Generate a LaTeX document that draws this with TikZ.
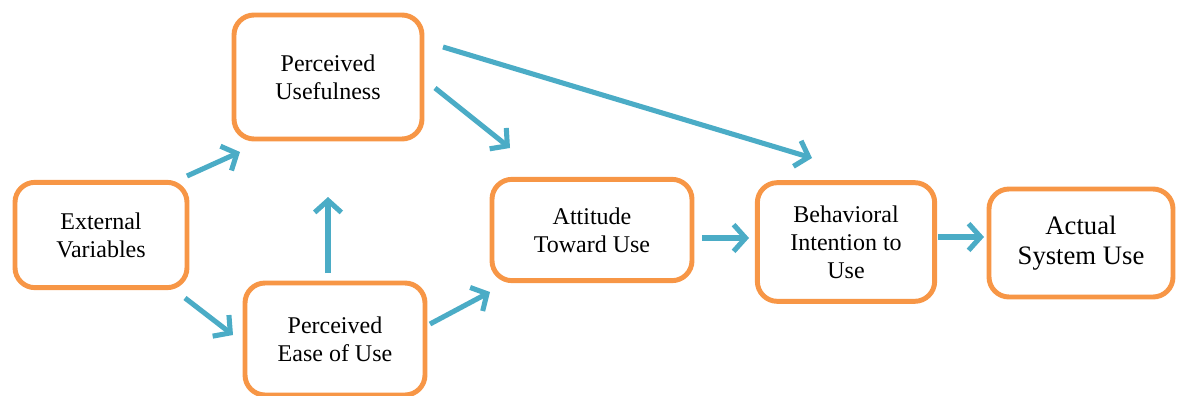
\documentclass[tikz,border=0pt]{standalone}
\usepackage{fontspec}
\setmainfont{Liberation Serif}
\usetikzlibrary{positioning,arrows.meta}
\definecolor{tamorange}{RGB}{247,150,70}
\definecolor{tamblue}{RGB}{75,172,198}

\begin{document}
\begin{tikzpicture}[x=0.75pt,y=-0.75pt,
  box/.style={draw=tamorange,line width=3.7pt,rounded corners=15pt,
    align=center,fill=white,font=\fontsize{18}{21}\selectfont},
  arr/.style={draw=tamblue,line width=3.8pt,
    -{Straight Barb[length=9pt,width=20pt,line width=3.8pt]}}]
  \useasboundingbox (0,0) rectangle (1178,396);

  % boxes
  \node[box,minimum width=129pt,minimum height=79pt] (ev) at (101,235) {External\\Variables};
  \node[box,minimum width=141pt,minimum height=93pt] (pu) at (328,77) {Perceived\\Usefulness};
  \node[box,minimum width=135pt,minimum height=84pt] (peu) at (335,339) {Perceived\\Ease of Use};
  \node[box,minimum width=150pt,minimum height=76pt] (atu) at (592,230) {Attitude\\Toward Use};
  \node[box,minimum width=133pt,minimum height=89pt] (bi) at (846,242) {Behavioral\\Intention to\\Use};
  \node[box,minimum width=138pt,minimum height=81pt,
    font=\fontsize{20}{22.5}\selectfont] (asu) at (1081,243) {Actual\\System Use};

  % arrow ends
  \coordinate (evA) at (187,176);  \coordinate (puA) at (240,152);
  \coordinate (evB) at (185,298);  \coordinate (peuB) at (233,335);
  \coordinate (peuC) at (328,273); \coordinate (puC) at (328,197);
  \coordinate (puD) at (435,88);   \coordinate (atuD) at (510,148);
  \coordinate (puE) at (443,47);   \coordinate (biE) at (812,158);
  \coordinate (peuF) at (430,324); \coordinate (atuF) at (490,292);
  \coordinate (atuG) at (702,238); \coordinate (biG) at (749,238);
  \coordinate (biH) at (938,237);  \coordinate (asuH) at (984,237);

  % arrows
  \draw[arr] (evA) -- (puA);
  \draw[arr] (evB) -- (peuB);
  \draw[arr] (peuC) -- (puC);
  \draw[arr] (puD) -- (atuD);
  \draw[arr] (puE) -- (biE);
  \draw[arr] (peuF) -- (atuF);
  \draw[arr] (atuG) -- (biG);
  \draw[arr] (biH) -- (asuH);
\end{tikzpicture}
\end{document}
